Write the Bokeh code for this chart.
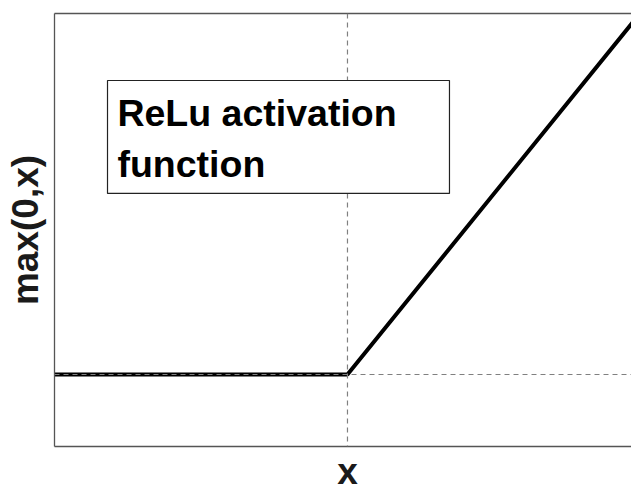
import math
from bokeh.plotting import figure
from bokeh.models import Range1d, LinearAxis, Span, BoxAnnotation, Label, FixedTicker
from bokeh.embed import file_html
from bokeh.resources import INLINE

# data: ReLU curve
x_vals = [-1.2, 0.0, 1.2]
y_vals = [max(0.0, v) for v in x_vals]
legend_lines = ["ReLu activation", "function"]
x_label = "x"
y_label = "max(0,x)"

FONT = "Liberation Sans"
FS = "37px"

p = figure(width=631, height=493, output_backend="svg", toolbar_location=None,
           x_range=Range1d(-1.08, 1.047), y_range=Range1d(-0.215, 1.078),
           min_border_left=54, min_border_top=13, min_border_right=0, min_border_bottom=47)
p.outline_line_color = None
p.grid.visible = False
p.background_fill_color = "white"
p.border_fill_color = "white"

p.line(x_vals, y_vals, line_color="black", line_width=4)

for ax in (p.xaxis[0], p.yaxis[0]):
    ax.ticker = FixedTicker(ticks=[])
    ax.major_tick_line_color = None
    ax.minor_tick_line_color = None
    ax.axis_line_color = "#555555"
    ax.axis_line_width = 1.3
    ax.axis_label_text_font = FONT
    ax.axis_label_text_font_style = "bold"
    ax.axis_label_text_font_size = FS
    ax.axis_label_text_color = "#1a1a1a"

p.yaxis.axis_label = y_label
p.yaxis.axis_label_standoff = 9

top = LinearAxis(ticker=FixedTicker(ticks=[]), major_tick_line_color=None, minor_tick_line_color=None,
                 axis_line_color="#555555", axis_line_width=1.3)
p.add_layout(top, "above")

p.add_layout(Span(location=0, dimension="height", line_color="#808080", line_dash="5 4", line_width=1.2))
p.add_layout(Span(location=0, dimension="width", line_color="#808080", line_dash="5 4", line_width=1.2))

p.add_layout(BoxAnnotation(left=-0.8846, right=0.376, bottom=0.5406, top=0.878,
                           fill_color="white", fill_alpha=1.0, line_color="#222222",
                           line_alpha=1.0, line_width=1.2))

for txt, yy in zip(legend_lines, [0.781, 0.629]):
    p.add_layout(Label(x=-0.848, y=yy, text=txt, text_font=FONT, text_font_style="bold",
                       text_font_size="37.5px", text_color="black", text_baseline="alphabetic"))

# x axis title placed in the bottom side panel
p.add_layout(Label(x=0.0, y=-0.291, text=x_label, text_font=FONT, text_font_style="bold",
                   text_font_size=FS, text_color="#1a1a1a", text_align="center",
                   text_baseline="alphabetic"), "below")

open("out.html", "w").write(file_html(p, INLINE))
